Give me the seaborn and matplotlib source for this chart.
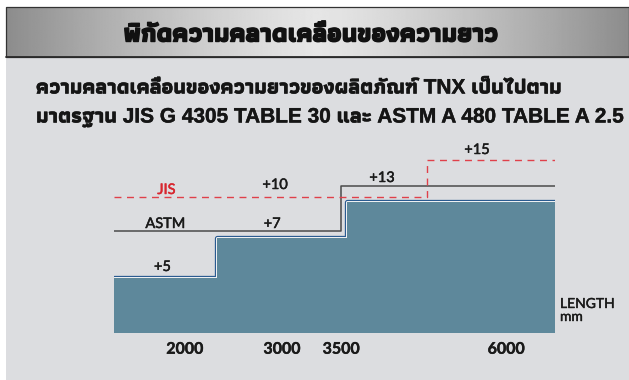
import numpy as np
import matplotlib
matplotlib.use("Agg")
import matplotlib.pyplot as plt
import matplotlib.patheffects as pe
from matplotlib import font_manager
from matplotlib.ft2font import FT2Font
from matplotlib.patches import Rectangle
import seaborn as sns

# ---- data: plus length tolerance (mm) by cut length (mm) ----
LENGTH_START = 1270
LENGTH_END = 6740
TNX_BREAKS = [1270, 2330, 3590]
TNX_TOL = [5, 6.7, 9.6]
ASTM_BREAKS = [1270, 3500]
ASTM_TOL = [7, 13]
JIS_BREAKS = [1270, 4800]
JIS_TOL = [10, 15]
TICK_LENGTHS = [2000, 3000, 3500, 6000]

TITLE = "พิกัดความคลาดเคลื่อนของความยาว"
LINE_1 = "ความคลาดเคลื่อนของความยาวของผลิตภัณฑ์ TNX เป็นไปตาม"
LINE_2 = "มาตรฐาน JIS G 4305 TABLE 30 และ ASTM A 480 TABLE A 2.5"

# schematic (non-linear) axis scales
X_KNOTS_MM = [1000, 2000, 3000, 3500, 6000, 7000]
X_KNOTS_POS = [-1.0, 0.0, 1.0, 1.61, 3.31, 3.99]
Y_KNOTS = [0, 5, 7, 10, 13, 15, 20]
Y_POS = [0, 55, 102, 136, 147, 173, 238]

FILL = "#5e889b"
BLUE = "#26578f"
TICK_BLUE = "#1f4f8c"
GRAY = "#4a4a4a"
RED = "#e0404a"
PANEL = "#dcdde0"


def thai_family():
    found = []
    for f in font_manager.fontManager.ttflist:
        try:
            if 0x0E01 in FT2Font(f.fname).get_charmap():
                w = f.weight if isinstance(f.weight, int) else 400
                found.append((f.name, w))
        except Exception:
            pass
    if not found:
        return "DejaVu Sans", False
    bold = sorted({n for n, w in found if w >= 600})
    if bold:
        return bold[0], True
    return sorted({n for n, _ in found})[0], False


sns.set_style("white")
THAI, THAI_HAS_BOLD = thai_family()
plt.rcParams["font.family"] = [THAI, "DejaVu Sans"]
LATIN = ["Lato", "DejaVu Sans"]
MIXED = ["Liberation Sans", THAI, "DejaVu Sans"]


def heavy(width, color):
    # thicken glyph outlines where no bold face is installed
    return [pe.withStroke(linewidth=width, foreground=color)]


W, H = 629, 380
fig = plt.figure(figsize=(W / 100, H / 100), dpi=100)
fig.patch.set_facecolor("white")

# decorative background in pixel coordinates
bg = fig.add_axes([0, 0, 1, 1])
bg.axis("off")
bg.add_patch(Rectangle((6, 7), W - 6, H - 7, facecolor=PANEL, edgecolor="none",
                       zorder=0))

t = np.linspace(-1, 1, 600)
shade = 0.55 + 0.35 * (1 - np.abs(t) ** 1.3)
grad = np.tile(shade, (2, 1))
bg.imshow(grad, cmap="gray", vmin=0, vmax=1, extent=(6, W, 57, 7),
          aspect="auto", interpolation="bilinear", zorder=1)
bg.add_patch(Rectangle((6, 7), W - 6, 50, facecolor="none",
                       edgecolor="#333333", linewidth=0.9, zorder=2))
bg.plot([6, W], [57, 57], color="#2a2a2a", linewidth=1.3, zorder=2)
bg.set_xlim(0, W)
bg.set_ylim(H, 0)

bg.text(311, 35, TITLE, ha="center", va="center", fontsize=18.5,
        fontweight="bold", color="#111111", zorder=3,
        path_effects=heavy(1.0 if THAI_HAS_BOLD else 2.2, "#111111"))
for ypix, line in ((88, LINE_1), (117, LINE_2)):
    bg.text(36, ypix, line, ha="left", va="center", fontsize=15,
            fontweight="bold", color="#151515", family=MIXED, zorder=3,
            path_effects=heavy(0.3 if THAI_HAS_BOLD else 1.0, "#151515"))

# chart axes
ax_left, ax_right, ax_bottom = 114, 555, 333
y_top = 18
top_pos = np.interp(y_top, Y_KNOTS, Y_POS)
ax = fig.add_axes([ax_left / W, (H - ax_bottom) / H,
                   (ax_right - ax_left) / W, top_pos / H])
ax.set_facecolor("none")

ax.set_xscale("function", functions=(lambda v: np.interp(v, X_KNOTS_MM, X_KNOTS_POS),
                                     lambda p: np.interp(p, X_KNOTS_POS, X_KNOTS_MM)))
ax.set_yscale("function", functions=(lambda v: np.interp(v, Y_KNOTS, Y_POS),
                                     lambda p: np.interp(p, Y_POS, Y_KNOTS)))


def steps(breaks, tol):
    return list(breaks) + [LENGTH_END], list(tol) + [tol[-1]]


tx, ty = steps(TNX_BREAKS, TNX_TOL)
ax_x, ax_y = steps(ASTM_BREAKS, ASTM_TOL)
jx, jy = steps(JIS_BREAKS, JIS_TOL)

outline = [pe.Stroke(linewidth=3.8, foreground=BLUE),
           pe.Stroke(linewidth=2.2, foreground="#eef0f2")]
sns.lineplot(x=tx, y=ty, ax=ax, drawstyle="steps-post", color=BLUE,
             linewidth=1, path_effects=outline, zorder=1, sort=False)
ax.fill_between(tx, 0, ty, step="post", color=FILL, linewidth=0, zorder=2)
sns.lineplot(x=ax_x, y=ax_y, ax=ax, drawstyle="steps-post", color=GRAY,
             linewidth=1.1, zorder=3, sort=False)
sns.lineplot(x=jx, y=jy, ax=ax, drawstyle="steps-post", color=RED,
             linewidth=1.0, linestyle=(0, (5, 4)), zorder=3, sort=False)

ax.set_xlim(LENGTH_START, LENGTH_END)
ax.set_ylim(0, y_top)

# value labels: (series values, index, x position, pixel lift, text, colour)
labels = [
    (TNX_TOL, 0, 1770, 11, None, "#1a1a1a"),
    (ASTM_TOL, 0, 2900, 7, None, "#1a1a1a"),
    (JIS_TOL, 0, 2930, 12, None, "#1a1a1a"),
    (ASTM_TOL, 1, 4120, 8, None, "#1a1a1a"),
    (JIS_TOL, 1, 5560, 10, None, "#1a1a1a"),
    (ASTM_TOL, 0, 1800, 7, "ASTM", "#1a1a1a"),
    (JIS_TOL, 0, 1810, 7, "JIS", "#d8262f"),
]
for vals, i, xpos, lift, txt, col in labels:
    v = vals[i]
    s = txt if txt else f"+{v:g}"
    ax.annotate(s, xy=(xpos, v), xytext=(0, lift * 0.72), textcoords="offset points",
                ha="center", va="center", fontsize=10.5, color=col,
                family=LATIN, annotation_clip=False,
                path_effects=heavy(0.35, col))

for word, lift in (("LENGTH", 29), ("mm", 16)):
    ax.annotate(word, xy=(1, 0), xycoords="axes fraction", xytext=(5 * 0.72, lift * 0.72),
                textcoords="offset points", ha="left", va="center", fontsize=10,
                color="#1a1a1a", family=LATIN, path_effects=heavy(0.3, "#1a1a1a"))

ax.set_xticks(TICK_LENGTHS)
ax.set_xticklabels([str(v) for v in TICK_LENGTHS], family=LATIN,
                   fontweight="bold", fontsize=11.5, color="#1a1a1a")
for lab in ax.get_xticklabels():
    lab.set_path_effects(heavy(0.3, "#1a1a1a"))
ax.set_yticks([])
ax.minorticks_off()
ax.tick_params(axis="x", direction="inout", length=10, width=0.9,
               color=TICK_BLUE, pad=2)
for sp in ax.spines.values():
    sp.set_visible(False)
ax.set_xlabel("")
ax.set_ylabel("")
ax.grid(False)

fig.savefig("out.png", dpi=100, facecolor="white")
